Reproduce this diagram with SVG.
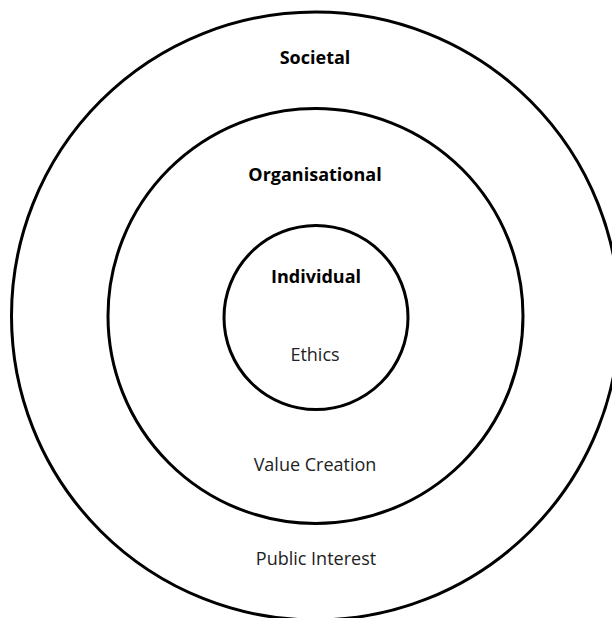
<svg xmlns="http://www.w3.org/2000/svg" width="612" height="618" viewBox="0 0 612 618">
  <style>
    .ring { fill: none; stroke: #000; stroke-width: 3; }
    .title { font-family: "Open Sans", "Liberation Sans", sans-serif; font-size: 18px; font-weight: bold; fill: #000; text-anchor: middle; }
    .label { font-family: "Open Sans", "Liberation Sans", sans-serif; font-size: 18px; fill: #222; text-anchor: middle; }
  </style>
  <rect width="612" height="618" fill="#fff"/>
  <g id="societal">
    <circle class="ring" cx="315.5" cy="316" r="304"/>
    <text class="title" x="315" y="64">Societal</text>
    <text class="label" x="316" y="565">Public Interest</text>
  </g>
  <g id="organisational">
    <circle class="ring" cx="315.5" cy="316" r="207.5"/>
    <text class="title" x="315" y="181">Organisational</text>
    <text class="label" x="315" y="471">Value Creation</text>
  </g>
  <g id="individual">
    <circle class="ring" cx="316" cy="317.5" r="92"/>
    <text class="title" x="316" y="283">Individual</text>
    <text class="label" x="315" y="361">Ethics</text>
  </g>
  <g id="connectors"/>
</svg>
